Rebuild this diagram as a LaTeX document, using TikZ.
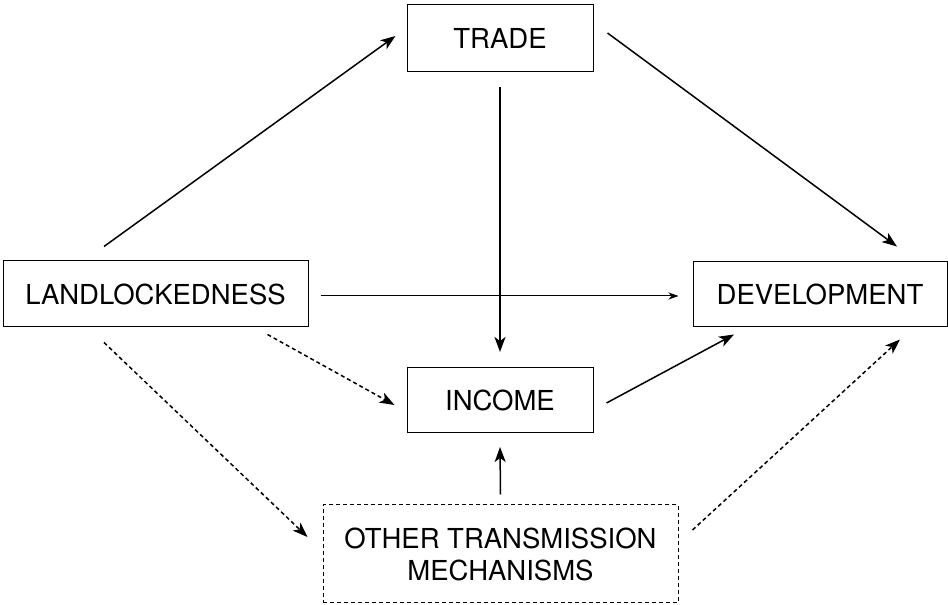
\documentclass[tikz,border=0pt]{standalone}
\usepackage{fontspec}
\setmainfont{TeX Gyre Heros}
\usetikzlibrary{arrows.meta}
\begin{document}
\begin{tikzpicture}[x=1pt,y=1pt,
  box/.style={draw, line width=1pt, rectangle, inner sep=0pt, font=\fontsize{27.5}{32}\selectfont, align=center},
  arr/.style={line width=1.5pt, -{Stealth[length=15pt,width=11pt,inset=4pt]}},
  thinarr/.style={line width=1pt, -{Stealth[length=10pt,width=7pt,inset=3pt]}},
  dsh/.style={dash pattern=on 4pt off 3pt}]
\useasboundingbox (0,0) rectangle (948,605);
\node[box, minimum width=186pt, minimum height=67pt] (t) at (500,566.5) {TRADE};
\node[box, minimum width=305pt, minimum height=66pt] (l) at (155.5,311) {LANDLOCKEDNESS};
\node[box, minimum width=254pt, minimum height=65pt] (d) at (820,311) {DEVELOPMENT};
\node[box, minimum width=186pt, minimum height=65pt] (i) at (500,204.5) {INCOME};
\node[box, dsh, minimum width=355pt, minimum height=98pt] (o) at (500.5,51) {OTHER TRANSMISSION\\MECHANISMS};
\draw[arr] ([shift={(-51.5,14)}]l.north) -- ([shift={(-11,2.5)}]t.west);
\draw[arr] ([shift={(14,5.5)}]t.east) -- ([shift={(77,14.5)}]d.north);
\draw[arr] ([shift={(0,-15)}]t.south) -- ([shift={(0,15.5)}]i.north);
\draw[thinarr] ([shift={(12,-2)}]l.east) -- ([shift={(-14,-2)}]d.west);
\draw[arr, dsh] ([shift={(-41,-7)}]l.south east) -- ([shift={(-12,-4.5)}]i.west);
\draw[arr] ([shift={(13,-2.5)}]i.east) -- ([shift={(-86,-7.5)}]d.south);
\draw[arr, dsh] ([shift={(14,24)}]o.east) -- ([shift={(80,-12.5)}]d.south);
\draw[arr] ([shift={(0,10)}]o.north) -- ([shift={(0,-13.5)}]i.south);
\draw[arr, dsh] ([shift={(-51.5,-15)}]l.south) -- ([shift={(-15,17)}]o.west);
\end{tikzpicture}
\end{document}
